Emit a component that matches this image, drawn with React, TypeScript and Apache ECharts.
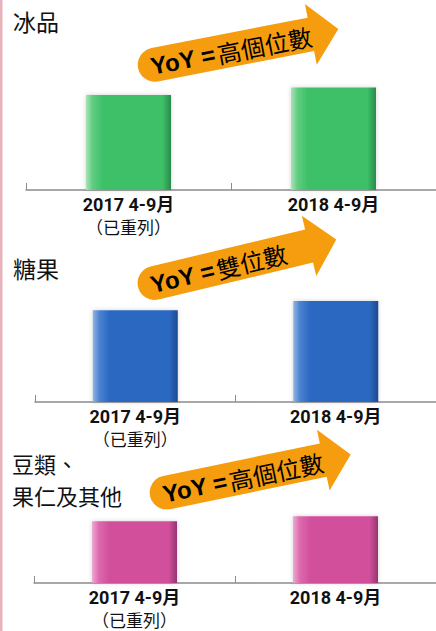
import React, { useEffect, useRef } from "react";
import * as echarts from "echarts";

const categories = ["2017 4-9月", "2018 4-9月"];
const categoryNotes = ["（已重列）", ""];
const panelTitles = [["冰品"], ["糖果"], ["豆類、", "果仁及其他"]];
const iceValues = [100, 108];
const candyValues = [100, 110];
const nutValues = [100, 108];
const yoyTexts = ["高個位數", "雙位數", "高個位數"];

const seriesValues = [iceValues, candyValues, nutValues];

const grids = [
  { left: 26, right: 0, top: 38, height: 152 },
  { left: 35, right: -5, top: 255, height: 147 },
  { left: 34, right: -6, top: 484, height: 99 },
];

const barColors = [
  ["#a8e4b6", "#5fcc80", "#3cc068", "#3cc068", "#2a8a4b"],
  ["#93b4e2", "#4a82d0", "#2b68c2", "#2b68c2", "#1d4a8e"],
  ["#eeaad2", "#dc6aae", "#d2509c", "#d2509c", "#963570"],
];

const arrows = [
  { x: 138, y: 68, angle: 11, len: 204 },
  { x: 138, y: 287, angle: 13.5, len: 204 },
  { x: 150, y: 496, angle: 11.7, len: 205 },
];

const titlePos = [
  { x: 13, y: [21], size: 23 },
  { x: 13, y: [268], size: 23 },
  { x: 12, y: [463, 495], size: 22 },
];

function arrowPoints(len: number) {
  const hw = 17;
  const headW = 31;
  const headL = 28;
  const tail: number[][] = [];
  for (let i = 0; i <= 12; i++) {
    const a = Math.PI / 2 + (i / 12) * Math.PI;
    tail.push([hw + hw * Math.cos(a), hw * Math.sin(a)]);
  }
  const body = [
    [len - headL, -hw],
    [len - headL, -headW],
    [len, 0],
    [len - headL, headW],
    [len - headL, hw],
  ];
  return [...tail, ...body];
}

export default function App() {
  const ref = useRef<HTMLDivElement>(null);
  useEffect(() => {
    if (!ref.current) return;
    const chart = echarts.init(ref.current, null, { renderer: "svg" });

    const graphics: any[] = [
      {
        type: "rect",
        shape: { x: 0, y: 0, width: 2.5, height: 631 },
        style: { fill: "#e8b4bc" },
        z: 10,
      },
    ];
    panelTitles.forEach((lines, i) => {
      lines.forEach((t, j) => {
        graphics.push({
          type: "text",
          x: titlePos[i].x,
          y: titlePos[i].y[j],
          style: {
            text: t,
            fill: "#111",
            font: titlePos[i].size + 'px "Noto Sans CJK TC", "Noto Sans", sans-serif',
            lineHeight: 24,
            verticalAlign: "middle",
          },
          z: 10,
        });
      });
    });
    arrows.forEach((a, i) => {
      graphics.push({
        type: "group",
        x: a.x,
        y: a.y,
        rotation: (a.angle * Math.PI) / 180,
        z: 20,
        children: [
          {
            type: "polygon",
            shape: { points: arrowPoints(a.len) },
            style: { fill: "#F59D0E" },
          },
          {
            type: "text",
            x: 13,
            y: 1,
            style: {
              text: "{a|YoY =}{b|" + yoyTexts[i] + "}",
              verticalAlign: "middle",
              rich: {
                a: {
                  fontFamily: '"Liberation Sans", Arial, sans-serif',
                  fontWeight: "bold",
                  fontSize: 24,
                  fill: "#000",
                  padding: [0, 2, 0, 0],
                },
                b: {
                  fontFamily: '"Noto Sans CJK TC", sans-serif',
                  fontSize: 24,
                  fill: "#000",
                },
              },
            },
          },
        ],
      });
    });

    const option: any = {
      animation: false,
      grid: grids.map((g) => ({ ...g, containLabel: false })),
      xAxis: grids.map((_, i) => ({
        type: "category",
        gridIndex: i,
        data: categories,
        axisLine: { show: true, lineStyle: { color: "#8c8c8c", width: 1.5 } },
        axisTick: {
          show: true,
          inside: true,
          length: 7,
          lineStyle: { color: "#8c8c8c", width: 1 },
        },
        axisLabel: {
          margin: 3,
          interval: 0,
          formatter: (v: string, idx: number) =>
            "{b|" + v + "}" + (categoryNotes[idx] ? "\n{r|" + categoryNotes[idx] + "}" : ""),
          rich: {
            b: {
              fontFamily: 'Roboto, "Noto Sans CJK TC", sans-serif',
              fontWeight: "bold",
              fontSize: 18,
              color: "#111",
              lineHeight: 22,
            },
            r: {
              fontFamily: '"Noto Sans CJK TC", sans-serif',
              fontSize: 17,
              color: "#111",
              lineHeight: 22,
            },
          },
        },
        splitLine: { show: false },
      })),
      yAxis: grids.map((_, i) => ({
        type: "value",
        gridIndex: i,
        min: 0,
        max: 160,
        show: false,
        splitLine: { show: false },
      })),
      series: seriesValues.map((vals, i) => ({
        type: "bar",
        xAxisIndex: i,
        yAxisIndex: i,
        data: vals,
        barWidth: 85,
        itemStyle: {
          color: new echarts.graphic.LinearGradient(1, 0, 0, 0, [
            { offset: 0, color: barColors[i][4] },
            { offset: 0.1, color: barColors[i][3] },
            { offset: 0.8, color: barColors[i][2] },
            { offset: 0.92, color: barColors[i][1] },
            { offset: 1, color: barColors[i][0] },
          ]),
          shadowBlur: 4,
          shadowColor: "rgba(0,0,0,0.18)",
        },
      })),
      graphic: graphics,
    };
    chart.setOption(option);
    return () => chart.dispose();
  }, []);
  return (
    <div
      ref={ref}
      style={{ position: "absolute", left: 0, top: 0, width: 436, height: 631, background: "#fff" }}
    />
  );
}
